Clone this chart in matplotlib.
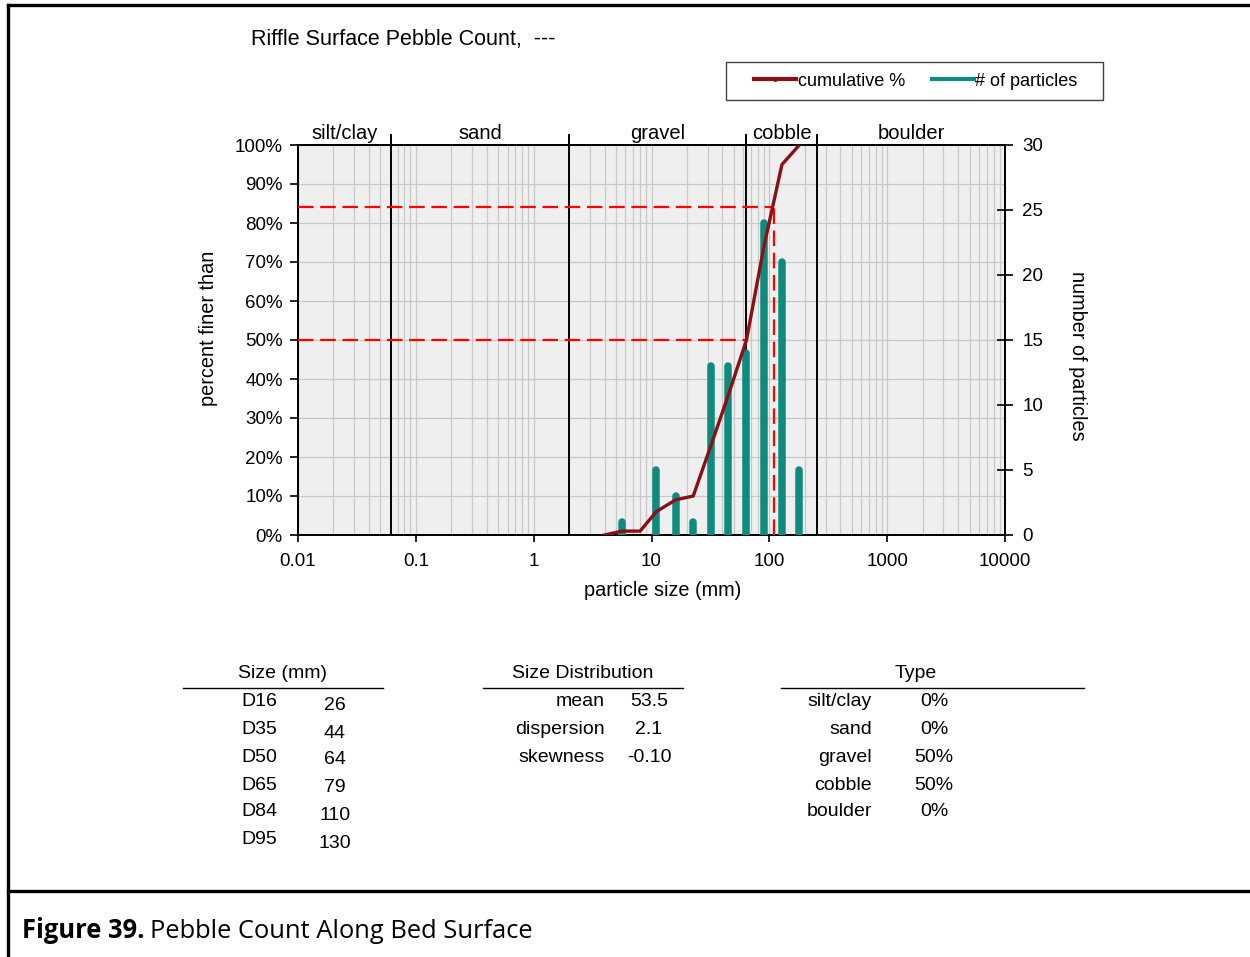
import matplotlib
matplotlib.use('Agg')
import matplotlib.pyplot as plt
import numpy as np
from matplotlib.lines import Line2D
from matplotlib.patches import Rectangle
from matplotlib.ticker import LogLocator, NullFormatter, FixedLocator
import matplotlib.transforms as mtransforms

# ---------------- data ----------------
title = "Riffle Surface Pebble Count,  ---"
cum_sizes = [4, 5.6, 8, 11, 16, 22.6, 32, 45, 64, 90, 128, 180]
cum_pct = [0, 1, 1, 6, 9, 10, 23, 36, 50, 74, 95, 100]
bar_sizes = [5.6, 8, 11, 16, 22.6, 32, 45, 64, 90, 128, 180]
bar_counts = [1, 0, 5, 3, 1, 13, 13, 14, 24, 21, 5]
class_names = ['silt/clay', 'sand', 'gravel', 'cobble', 'boulder']
class_edges = [0.01, 0.062, 2, 64, 256, 10000]
d50 = 64
d84 = 110
x_ticks = [0.01, 0.1, 1, 10, 100, 1000, 10000]
x_ticklabels = ['0.01', '0.1', '1', '10', '100', '1000', '10000']
pct_ticks = [0, 10, 20, 30, 40, 50, 60, 70, 80, 90, 100]
count_ticks = [0, 5, 10, 15, 20, 25, 30]
size_labels = ['D16', 'D35', 'D50', 'D65', 'D84', 'D95']
size_values = ['26', '44', '64', '79', '110', '130']
dist_labels = ['mean', 'dispersion', 'skewness']
dist_values = ['53.5', '2.1', '-0.10']
type_labels = ['silt/clay', 'sand', 'gravel', 'cobble', 'boulder']
type_values = ['0%', '0%', '50%', '50%', '0%']

# ---------------- style ----------------
plt.rcParams['font.family'] = ['Liberation Sans', 'DejaVu Sans']
FS = 13.5
LFS = 14.3
CURVE = '#8a0f17'
TEAL = '#0e8a7e'
GRID = '#c8c8c8'

W, H = 1250, 957
fig = plt.figure(figsize=(W / 100, H / 100), dpi=100)
fig.patch.set_facecolor('white')


def fx(x):
    return x / W


def fy(y):
    return 1 - y / H


ax = fig.add_axes([fx(298), fy(535), fx(1005) - fx(298), fy(145) - fy(535)])
ax.set_facecolor('#efefef')
ax.set_xscale('log')
ax.set_xlim(0.01, 10000)
ax.set_ylim(0, 100)
ax.xaxis.set_major_locator(FixedLocator(x_ticks))
ax.set_xticklabels(x_ticklabels)
ax.xaxis.set_minor_locator(LogLocator(base=10, subs=np.arange(2, 10)))
ax.xaxis.set_minor_formatter(NullFormatter())
ax.set_yticks(pct_ticks)
ax.set_yticklabels([f'{v}%' for v in pct_ticks])
ax.grid(True, which='both', axis='x', color=GRID, lw=0.9)
ax.grid(True, which='major', axis='y', color=GRID, lw=0.9)
ax.set_axisbelow(True)
ax.tick_params(axis='x', which='major', direction='out', length=5, width=1.2,
               labelsize=FS, pad=8, top=False)
ax.tick_params(axis='x', which='minor', length=0, top=False)
ax.tick_params(axis='y', which='major', direction='out', length=6, width=1.2,
               labelsize=FS, pad=5)
for s in ax.spines.values():
    s.set_linewidth(1.3)
    s.set_color('black')

# class boundaries
for b in class_edges[1:-1]:
    ax.axvline(b, ymin=0, ymax=1.026, color='black', lw=1.4, clip_on=False, zorder=3)
trans = mtransforms.blended_transform_factory(ax.transData, ax.transAxes)
for name, lo, hi in zip(class_names, class_edges[:-1], class_edges[1:]):
    ax.text(np.sqrt(lo * hi), 1.004, name, transform=trans, ha='center', va='bottom',
            fontsize=14.5)

# secondary axis
ax2 = ax.twinx()
ax2.set_ylim(0, 30)
ax2.set_yticks(count_ticks)
ax2.patch.set_visible(False)
ax2.tick_params(axis='y', direction='inout', length=11, width=1.2, labelsize=FS, pad=7)
for s in ax2.spines.values():
    s.set_linewidth(1.3)
    s.set_color('black')
ax2.vlines(bar_sizes, 0, bar_counts, colors=TEAL, lw=5.4, capstyle='round', zorder=3)

# curve and D50/D84 guides (in percent units)
dash = (7, 3)
ax2.plot([0.01, d84], [84, 84], transform=ax.transData, color='#ff0000', lw=1.6,
         dashes=dash, zorder=4)
ax2.plot([d84, d84], [0, 84], transform=ax.transData, color='#ff0000', lw=1.6,
         dashes=dash, zorder=4)
ax2.plot([0.01, d50], [50, 50], transform=ax.transData, color='#ff0000', lw=1.6,
         dashes=dash, zorder=4)
ax2.plot(cum_sizes, cum_pct, transform=ax.transData, color=CURVE, lw=2.4, zorder=5,
         solid_joinstyle='miter')
ax2.set_xlim(0.01, 10000)

# axis labels
fig.text(fx(208), fy(328), 'percent finer than', rotation=90, ha='center', va='center',
         fontsize=LFS)
fig.text(fx(1078), fy(356), 'number of particles', rotation=270, ha='center',
         va='center', fontsize=LFS)
fig.text(fx(663), fy(591), 'particle size (mm)', ha='center', va='center', fontsize=LFS)

# title
fig.text(fx(251), fy(40), title, ha='left', va='center', fontsize=15.5)

# legend
handles = [Line2D([], [], color=CURVE, lw=3, marker='o', ms=2.5),
           Line2D([], [], color=TEAL, lw=3)]
leg = fig.legend(handles, ['cumulative %', '# of particles'], ncol=2, loc='center',
                 bbox_to_anchor=(fx(916), fy(81)), frameon=False,
                 handlelength=2.3, handletextpad=0.1,
                 columnspacing=1.5, borderpad=0.5, fontsize=FS - 0.5)
fig.add_artist(Rectangle((fx(726), fy(100)), fx(1103) - fx(726), fy(62) - fy(100),
                         transform=fig.transFigure, facecolor='none',
                         edgecolor='#404040', lw=1.0))

# ---------------- tables ----------------
def hline(x0, x1, y, lw=1.0):
    fig.add_artist(Line2D([fx(x0), fx(x1)], [fy(y), fy(y)], color='black', lw=lw))


TFS = 14
fig.text(fx(283), fy(674), 'Size (mm)', ha='center', va='center', fontsize=TFS)
hline(183, 383, 688)
rows_y = [702, 730, 757, 785, 812, 840]
for lab, val, y in zip(size_labels, size_values, rows_y):
    fig.text(fx(259), fy(y), lab, ha='center', va='center', fontsize=TFS)
    fig.text(fx(335), fy(y + 3), val, ha='center', va='center', fontsize=TFS)

fig.text(fx(583), fy(674), 'Size Distribution', ha='center', va='center', fontsize=TFS)
hline(483, 683, 688)
for lab, val, y in zip(dist_labels, dist_values, rows_y):
    fig.text(fx(605), fy(y), lab, ha='right', va='center', fontsize=TFS)
    fig.text(fx(649), fy(y), val, ha='center', va='center', fontsize=TFS)

fig.text(fx(916), fy(674), 'Type', ha='center', va='center', fontsize=TFS)
hline(781, 1084, 688)
for lab, val, y in zip(type_labels, type_values, rows_y):
    fig.text(fx(872), fy(y), lab, ha='right', va='center', fontsize=TFS)
    fig.text(fx(934), fy(y), val, ha='center', va='center', fontsize=TFS)

# ---------------- frame & caption ----------------
fig.add_artist(Line2D([fx(8), 1], [fy(5), fy(5)], color='black', lw=2.4))
fig.add_artist(Line2D([fx(8), fx(8)], [0, fy(5)], color='black', lw=2.4))
fig.add_artist(Line2D([fx(8), 1], [fy(891), fy(891)], color='black', lw=2.4))

CFS = 18.4
cap1 = fig.text(fx(22), fy(928), 'Figure 39.', ha='left', va='center_baseline',
                fontsize=CFS, fontweight='bold', family=['Open Sans', 'DejaVu Sans'])
renderer = fig.canvas.get_renderer()
bb = cap1.get_window_extent(renderer)
fig.text(bb.x1 / W + fx(6), fy(928), 'Pebble Count Along Bed Surface', ha='left',
         va='center_baseline', fontsize=CFS, family=['Open Sans', 'DejaVu Sans'])

fig.savefig('out.png', dpi=100)
